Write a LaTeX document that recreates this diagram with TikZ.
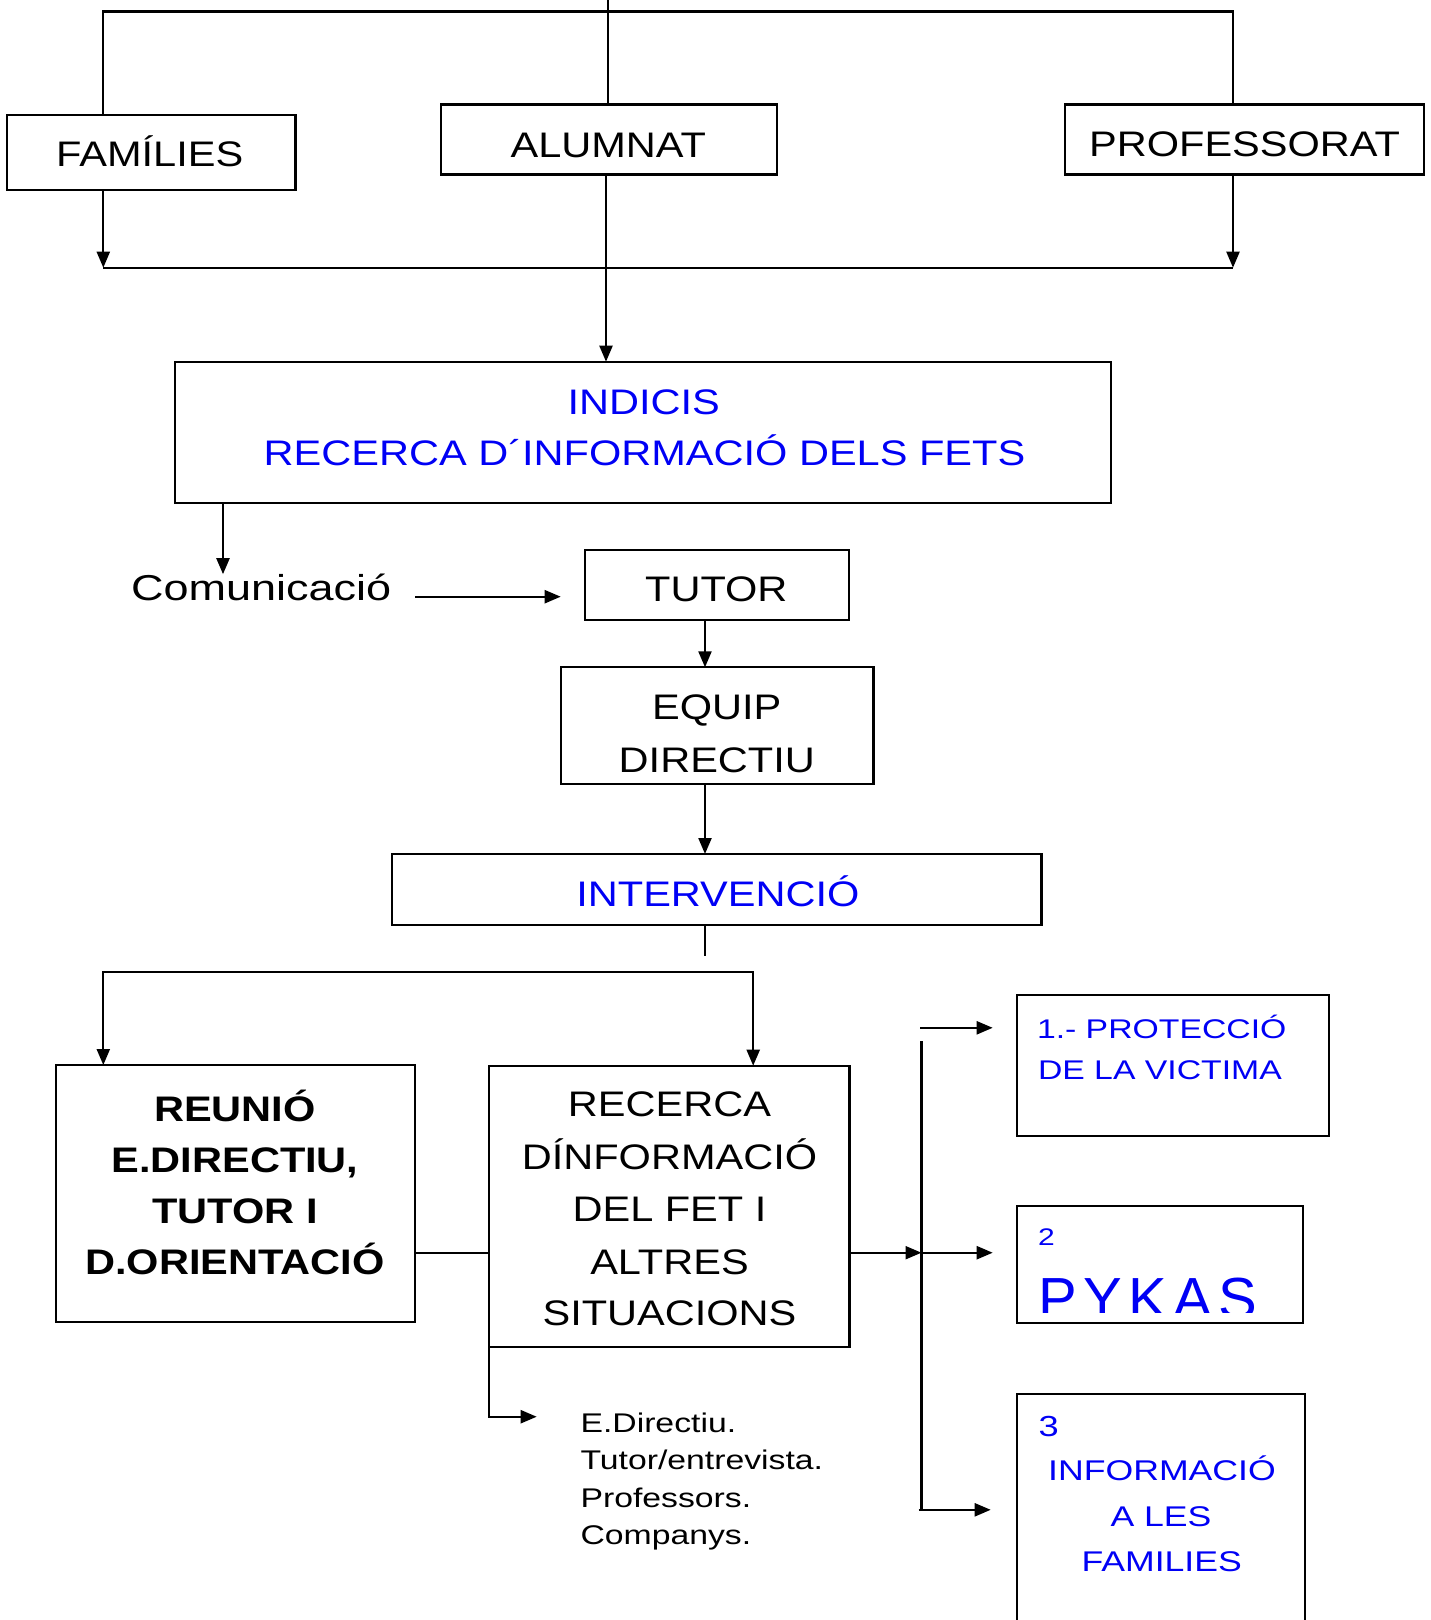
\documentclass[tikz,border=0pt]{standalone}
\usepackage{fontspec}
\setmainfont{Liberation Sans}
\newfontfamily\mf[FakeStretch=1.17]{Liberation Sans}
\newfontfamily\wf[FakeStretch=1.25]{Liberation Sans}
\newfontfamily\pf[LetterSpace=11]{Liberation Sans}
\usetikzlibrary{arrows.meta,fit}
\definecolor{tblue}{RGB}{0,0,245}
\tikzset{
  box/.style={draw, line width=2.3pt, inner sep=0pt, outer sep=0pt},
  ln/.style={line width=2.2pt},
  arr/.style={line width=2.2pt, -{Triangle[length=16pt,width=13pt]}},
  txt/.style={inner sep=0pt, outer sep=0pt, anchor=base, font=\mf\fontsize{35.5}{40}\selectfont},
  btxt/.style={txt, font=\mf\bfseries\fontsize{35.5}{40}\selectfont},
  ltxt/.style={inner sep=0pt, outer sep=0pt, anchor=base west},
  blue/.style={text=tblue}
}
\begin{document}
\begin{tikzpicture}[x=1pt,y=-1pt]
\useasboundingbox (0,0) rectangle (1431,1620);
\clip (0,0) rectangle (1431,1620);
\fill[white] (0,0) rectangle (1431,1620);

% boxes
\node[box, fit={(7.2,114.7) (295.5,190.1)}] (fam) {};
\node[box, fit={(441.2,104.4) (777,174.6)}] (alu) {};
\node[box, fit={(1065.2,104.4) (1423.7,174.6)}] (prof) {};
\node[box, fit={(175,361.7) (1110.7,502.7)}] (ind) {};
\node[box, fit={(584.7,550) (849,620.3)}] (tutor) {};
\node[box, fit={(560.7,667.3) (873.5,784.3)}] (equip) {};
\node[box, fit={(392.3,854) (1041.5,924.7)}] (interv) {};
\node[box, fit={(55.7,1065) (415,1322.3)}] (reu) {};
\node[box, fit={(489,1065.7) (849.6,1346.7)}] (rec) {};
\node[box, fit={(1017.3,995) (1329,1135.7)}] (p1) {};
\node[box, fit={(1017.3,1206) (1303.3,1323.3)}] (p2) {};
\node[box, fit={(1017.3,1394) (1305,1660)}] (p3) {};

% texts
\node[txt] (tfam) at (149.7,166.7) {FAMÍLIES};
\node[txt] (talu) at (608.3,157.3) {ALUMNAT};
\node[txt] (tprof) at (1244.5,156.7) {PROFESSORAT};
\node[txt, blue] (tind1) at (643.7,414) {INDICIS};
\node[txt, blue] (tind2) at (644.5,465.7) {RECERCA D´INFORMACIÓ DELS FETS};
\node[txt, font=\wf\fontsize{36}{40}\selectfont] (com) at (261.2,600.7) {Comunicació};
\node[txt] (ttut) at (716.3,601.7) {TUTOR};
\node[txt] (teq1) at (716.8,719.3) {EQUIP};
\node[txt] (teq2) at (716.8,772) {DIRECTIU};
\node[txt, blue] (tint) at (717.9,906) {INTERVENCIÓ};
\node[btxt] (tr1) at (235,1121) {REUNIÓ};
\node[btxt] (tr2) at (235,1172) {E.DIRECTIU,};
\node[btxt] (tr3) at (235,1223) {TUTOR I};
\node[btxt] (tr4) at (235,1274) {D.ORIENTACIÓ};
\node[txt] (tc1) at (669.5,1116.7) {RECERCA};
\node[txt] (tc2) at (669.5,1169) {DÍNFORMACIÓ};
\node[txt] (tc3) at (669.5,1221.5) {DEL FET I};
\node[txt] (tc4) at (669.5,1274) {ALTRES};
\node[txt] (tc5) at (669.5,1325) {SITUACIONS};
\node[ltxt, blue, font=\wf\fontsize{27}{30}\selectfont] (tp1a) at (1037,1038.3) {1.- PROTECCIÓ};
\node[ltxt, blue, font=\wf\fontsize{27}{30}\selectfont] (tp1b) at (1038,1079.3) {DE LA VICTIMA};
\node[ltxt, blue, font=\wf\fontsize{24}{28}\selectfont] (tp2a) at (1038,1245.7) {2};
\begin{scope}
\clip (1017.3,1206) rectangle (1303.3,1312.3);
\node[ltxt, blue, font=\pf\fontsize{58}{60}\selectfont] (tp2b) at (1038,1318.8) {PYKAS};
\end{scope}
\node[ltxt, blue, font=\wf\fontsize{29}{32}\selectfont] (tp3a) at (1038.5,1436) {3};
\node[txt, blue, font=\wf\fontsize{28.5}{32}\selectfont] (tp3b) at (1162,1480.7) {INFORMACIÓ};
\node[txt, blue, font=\wf\fontsize{28.5}{32}\selectfont] (tp3c) at (1161,1526.7) {A LES};
\node[txt, blue, font=\wf\fontsize{28.5}{32}\selectfont] (tp3d) at (1161.7,1571) {FAMILIES};
\node[ltxt, font=\wf\fontsize{27}{30}\selectfont] (l1) at (580.5,1432.3) {E.Directiu.};
\node[ltxt, font=\wf\fontsize{27}{30}\selectfont] (l2) at (580.5,1469.5) {Tutor/entrevista.};
\node[ltxt, font=\wf\fontsize{27}{30}\selectfont] (l3) at (580.5,1507) {Professors.};
\node[ltxt, font=\wf\fontsize{27}{30}\selectfont] (l4) at (580.5,1544.5) {Companys.};

% coordinates
\coordinate (top) at (607.8,0);
\coordinate (tl) at (103.3,11.4);
\coordinate (tr) at (1233,11.4);
\coordinate (bl) at (103.3,267.7);
\coordinate (br) at (1233,267.7);
\coordinate (xb) at (606,0);
\coordinate (xa) at (223,0);
\coordinate (ya) at (0,596.7);
\coordinate (xm) at (705,0);
\coordinate (ie) at (705,956);
\coordinate (hl) at (103.3,971.7);
\coordinate (hr) at (753.2,971.7);
\coordinate (j) at (921.5,1252.7);
\coordinate (vt) at (921.5,1041.2);
\coordinate (vb) at (921.5,1510.6);
\coordinate (a1) at (920.4,1027.8);
\coordinate (a3) at (918.7,1509.8);
\coordinate (ls) at (536.7,1416.7);

% connectors
\draw[ln] (top) -- (alu.north -| top);
\draw[ln] (fam.north -| tl) -- (tl) -- (tr) -- (prof.north -| tr);
\draw[arr] (fam.south -| bl) -- (bl);
\draw[arr] (prof.south -| br) -- (br);
\draw[ln] (bl) -- (br);
\draw[arr] (alu.south -| xb) -- (ind.north -| xb);
\draw[arr] (ind.south -| xa) -- (com.north -| xa);
\draw[arr] ([xshift=24pt]com.east |- ya) -- ([xshift=-24pt]tutor.west |- ya);
\draw[arr] (tutor.south -| xm) -- (equip.north -| xm);
\draw[arr] (equip.south -| xm) -- (interv.north -| xm);
\draw[ln] (interv.south -| xm) -- (ie);
\draw[arr] (hr) -- (hl) -- (reu.north -| hl);
\draw[arr] (hl) -- (hr) -- (rec.north -| hr);
\draw[ln] (reu.east |- j) -- (rec.west |- j);
\draw[arr] (rec.east |- j) -- (j);
\draw[ln] (vt) -- (vb);
\draw[arr] (a1) -- ([xshift=-24.6pt]p1.west |- a1);
\draw[arr] (j) -- ([xshift=-24.6pt]p2.west |- j);
\draw[arr] (a3) -- ([xshift=-26.6pt]p3.west |- a3);
\draw[arr] (rec.south west) -- (rec.south west |- ls) -- (ls);
\end{tikzpicture}
\end{document}
